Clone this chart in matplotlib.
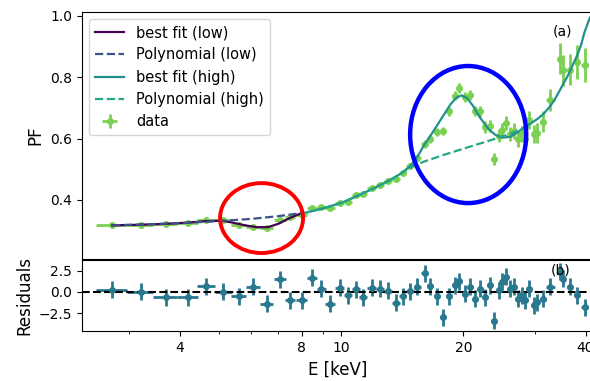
import numpy as np
import matplotlib
matplotlib.use("Agg")
import matplotlib.pyplot as plt
from matplotlib.patches import Ellipse
from matplotlib.ticker import NullFormatter

# measured points (energy bins)
energy = [2.73, 3.21, 3.70, 4.19, 4.65, 5.13, 5.60, 6.08, 6.56, 7.07,
          7.49, 8.00, 8.47, 8.93, 9.40, 9.93, 10.42, 10.88, 11.34, 11.89,
          12.47, 13.03, 13.64, 14.18, 14.79, 15.42, 16.05, 16.57, 17.22, 17.81,
          18.39, 19.03, 19.54, 20.14, 20.80, 21.40, 22.02, 22.65, 23.21, 23.75,
          24.43, 24.91, 25.51, 26.10, 26.59, 27.26, 27.88, 28.41, 29.11, 29.78,
          30.36, 31.41, 32.75, 34.68, 35.22, 36.57, 38.14, 39.77]
energy_err = [0.24, 0.24, 0.25, 0.24, 0.23, 0.24, 0.24, 0.24, 0.25, 0.25,
              0.22, 0.25, 0.23, 0.23, 0.25, 0.25, 0.24, 0.23, 0.25, 0.28,
              0.29, 0.29, 0.29, 0.29, 0.31, 0.31, 0.28, 0.29, 0.30, 0.30,
              0.30, 0.28, 0.28, 0.30, 0.30, 0.30, 0.30, 0.30, 0.28, 0.30,
              0.28, 0.28, 0.30, 0.28, 0.30, 0.30, 0.30, 0.30, 0.30, 0.30,
              0.40, 0.60, 0.80, 0.40, 0.40, 0.60, 0.70, 0.80]
pf = [0.317, 0.319, 0.321, 0.326, 0.333, 0.333, 0.317, 0.311, 0.307, 0.335,
      0.344, 0.352, 0.375, 0.378, 0.375, 0.390, 0.393, 0.415, 0.419, 0.439,
      0.448, 0.462, 0.468, 0.489, 0.510, 0.537, 0.582, 0.599, 0.621, 0.626,
      0.689, 0.740, 0.765, 0.735, 0.743, 0.690, 0.689, 0.637, 0.640, 0.533,
      0.610, 0.628, 0.650, 0.615, 0.625, 0.600, 0.615, 0.600, 0.660, 0.615,
      0.618, 0.655, 0.725, 0.861, 0.823, 0.825, 0.850, 0.839]
pf_err = [0.004, 0.004, 0.004, 0.004, 0.005, 0.005, 0.005, 0.005, 0.005, 0.006,
          0.006, 0.006, 0.006, 0.006, 0.006, 0.007, 0.007, 0.007, 0.007, 0.007,
          0.008, 0.008, 0.008, 0.009, 0.009, 0.010, 0.012, 0.012, 0.013, 0.013,
          0.014, 0.015, 0.015, 0.016, 0.016, 0.017, 0.018, 0.019, 0.020, 0.020,
          0.021, 0.022, 0.023, 0.024, 0.025, 0.026, 0.027, 0.028, 0.029, 0.030,
          0.032, 0.034, 0.036, 0.050, 0.050, 0.050, 0.055, 0.055]
resid = [0.27, 0.00, -0.60, -0.60, 0.68, 0.00, -0.51, 0.60, -1.39, 1.51,
         -0.99, -0.99, 1.67, 0.39, -1.39, 0.48, -0.39, 0.32, -0.60, 0.48,
         0.39, 0.12, -1.27, -0.51, 0.08, 0.60, 2.18, 0.68, -0.51, -2.98,
         -0.51, 0.80, 1.27, -0.20, 0.60, -0.80, 0.39, -0.60, 0.80, -3.37,
         0.20, 1.19, 1.79, 0.39, 0.60, -0.80, -0.39, -0.99, 0.39, -1.58,
         -1.19, -0.80, 0.60, 2.38, 1.58, 0.60, -0.39, -1.79]
resid_err = [1.0] * len(resid)

# model curves
low_fit_e = [2.73, 3.2, 3.7, 4.2, 4.65, 5.1, 5.4, 5.8, 6.2, 6.6, 7.0, 7.5, 8.0]
low_fit_pf = [0.317, 0.319, 0.322, 0.326, 0.331, 0.332, 0.326, 0.317, 0.311,
              0.311, 0.322, 0.342, 0.357]
low_poly_e = [2.73, 4.0, 5.0, 6.0, 7.0, 8.0]
low_poly_pf = [0.317, 0.324, 0.331, 0.338, 0.347, 0.357]
high_fit_e = [8.0, 9.0, 10.0, 11.0, 12.0, 13.0, 14.0, 14.8, 15.4, 16.0, 16.8,
              17.6, 18.6, 19.2, 19.8, 20.4, 21.1, 22.0, 23.1, 24.0, 25.0,
              26.1, 27.2, 28.2, 29.3, 30.5, 31.6, 32.6, 33.5, 34.4, 35.3,
              36.2, 37.0, 38.1, 39.0, 39.7, 41.0]
high_fit_pf = [0.355, 0.372, 0.390, 0.414, 0.437, 0.460, 0.485, 0.510, 0.540,
               0.578, 0.620, 0.662, 0.712, 0.733, 0.741, 0.733, 0.708, 0.668,
               0.630, 0.612, 0.603, 0.606, 0.620, 0.637, 0.649, 0.665, 0.682,
               0.703, 0.725, 0.752, 0.780, 0.806, 0.833, 0.870, 0.905, 0.944,
               0.995]
high_poly_e = [8.0, 9.0, 10.0, 11.0, 12.0, 13.0, 14.0, 15.0, 16.0, 18.0, 20.0,
               23.0, 26.0, 29.5]
high_poly_pf = [0.355, 0.372, 0.390, 0.414, 0.437, 0.460, 0.485, 0.510, 0.525,
                0.548, 0.567, 0.592, 0.615, 0.643]

c_low_fit = "#440154"
c_low_poly = "#3b528b"
c_high_fit = "#21918c"
c_high_poly = "#22a884"
c_data = "#7ad151"
c_res = "#2a788e"

fig = plt.figure(figsize=(5.9, 3.81), dpi=100)
ax1 = fig.add_axes([0.139, 0.320, 0.868, 0.6485])
ax2 = fig.add_axes([0.139, 0.131, 0.868, 0.1876], sharex=ax1)

ax1.errorbar(energy, pf, xerr=energy_err, yerr=pf_err, fmt="o", ms=4,
             color=c_data, elinewidth=2, label="data", zorder=2)
ax1.plot(low_fit_e, low_fit_pf, color=c_low_fit, lw=1.6, label="best fit (low)", zorder=3)
ax1.plot(low_poly_e, low_poly_pf, "--", color=c_low_poly, lw=1.6, label="Polynomial (low)", zorder=3)
ax1.plot(high_fit_e, high_fit_pf, color=c_high_fit, lw=1.6, label="best fit (high)", zorder=3)
ax1.plot(high_poly_e, high_poly_pf, "--", color=c_high_poly, lw=1.6, label="Polynomial (high)", zorder=3)

ax1.add_patch(Ellipse((0.3506, 0.166), 0.162, 0.283, transform=ax1.transAxes,
                      fill=False, ec="red", lw=2.8, clip_on=False, zorder=5))
ax1.add_patch(Ellipse((0.754, 0.504), 0.2266, 0.5547, transform=ax1.transAxes,
                      fill=False, ec="blue", lw=3.2, clip_on=False, zorder=5))

ax1.set_xscale("log")
ax1.set_xlim(2.3, 42)
ax1.set_ylim(0.207, 1.013)
ax1.set_yticks([0.4, 0.6, 0.8, 1.0])
ax1.set_ylabel("PF", fontsize=12)
ax1.tick_params(labelsize=10, labelbottom=False)
ax1.text(0.9375, 0.923, "(a)", transform=ax1.transAxes, fontsize=10,
         ha="center", va="center")
ax1.legend(loc="upper left", fontsize=10.5, handlelength=2.0)

ax2.errorbar(energy, resid, xerr=energy_err, yerr=resid_err, fmt="o", ms=4,
             color=c_res, elinewidth=2)
ax2.axhline(0, color="black", ls="--", lw=1.5)
ax2.set_ylim(-4.6, 3.8)
ax2.set_yticks([-2.5, 0.0, 2.5])
ax2.set_ylabel("Residuals", fontsize=12)
ax2.set_xlabel("E [keV]", fontsize=12)
ax2.set_xticks([4, 8, 10, 20, 40])
ax2.set_xticklabels(["4", "8", "10", "20", "40"])
ax2.xaxis.set_minor_formatter(NullFormatter())
ax2.tick_params(labelsize=10)
ax2.text(0.934, 0.845, "(b)", transform=ax2.transAxes, fontsize=10,
         ha="center", va="center")

fig.savefig("out.png", dpi=100)
